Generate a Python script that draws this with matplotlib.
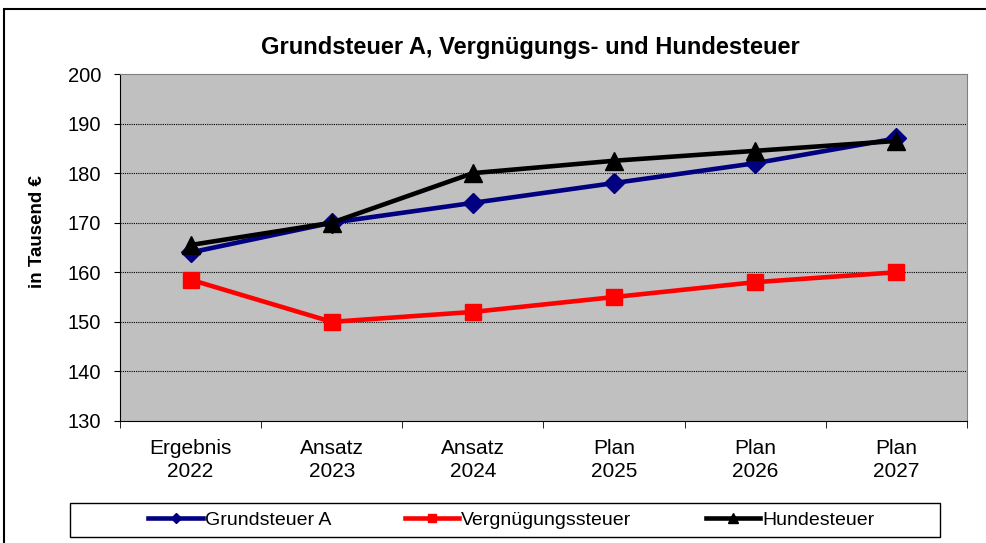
import matplotlib.pyplot as plt
import numpy as np
from matplotlib.patches import Rectangle

plt.rcParams['font.family'] = ['Liberation Sans', 'DejaVu Sans']

# data
kategorien = ["Ergebnis\n2022", "Ansatz\n2023", "Ansatz\n2024", "Plan\n2025", "Plan\n2026", "Plan\n2027"]
grundsteuer_a = [164, 170, 174, 178, 182, 187]
vergnuegungssteuer = [158.5, 150, 152, 155, 158, 160]
hundesteuer = [165.5, 170, 180, 182.5, 184.5, 186.5]

fig = plt.figure(figsize=(9.87, 5.43), dpi=100)
ax = fig.add_axes([0.1216, 0.2247, 0.858, 0.639])

# outer chart border (runs off right/bottom edge like the screenshot)
fig.patches.append(Rectangle((0.004, -0.05), 1.2, 1.033, transform=fig.transFigure,
                             fill=False, edgecolor='black', linewidth=1.5))
# legend box
fig.patches.append(Rectangle((0.071, 0.011), 0.881, 0.063, transform=fig.transFigure,
                             fill=False, edgecolor='black', linewidth=1))

ax.set_facecolor('#c0c0c0')
x = np.arange(len(kategorien))

ax.plot(x, grundsteuer_a, color='#000080', lw=3.3, marker='D', ms=10, label='Grundsteuer A', zorder=3)
ax.plot(x, vergnuegungssteuer, color='#ff0000', lw=3.3, marker='s', ms=11.5, label='Vergnügungssteuer', zorder=3)
ax.plot(x, hundesteuer, color='black', lw=3.3, marker='^', ms=13, label='Hundesteuer', zorder=4)

ax.set_xlim(-0.5, 5.5)
ax.set_ylim(130, 200)
ax.set_yticks(np.arange(130, 201, 10))
for v in range(140, 200, 10):
    ax.axhline(v, color='black', lw=0.8, ls=(0, (1, 1)), zorder=1)

ax.set_xticks(x)
ax.set_xticklabels(kategorien, fontsize=15, linespacing=1.25)
ax.set_xticks(np.arange(-0.5, 6, 1), minor=True)
ax.tick_params(axis='x', which='major', length=0, pad=13)
ax.tick_params(axis='x', which='minor', length=5, direction='out', color='black')
ax.tick_params(axis='y', length=4.5, direction='out', labelsize=14.5, pad=9)

for s in ['top', 'right']:
    ax.spines[s].set_color('#808080')
for s in ['left', 'bottom']:
    ax.spines[s].set_color('black')

fig.text(0.0375, 0.573, 'in Tausend €', rotation=90, ha='center', va='center',
         fontsize=13.5, fontweight='bold')
fig.text(0.537, 0.912, 'Grundsteuer A, Vergnügungs- und Hundesteuer', ha='center', va='center',
         fontsize=17, fontweight='bold')

leg = fig.legend(loc='center', bbox_to_anchor=(0.518, 0.0425), ncol=3,
                 fontsize=14, frameon=False, markerscale=0.55, handlelength=2.8,
                 handletextpad=0.1, columnspacing=3.8, borderaxespad=0)

fig.savefig('out.png', dpi=100)
